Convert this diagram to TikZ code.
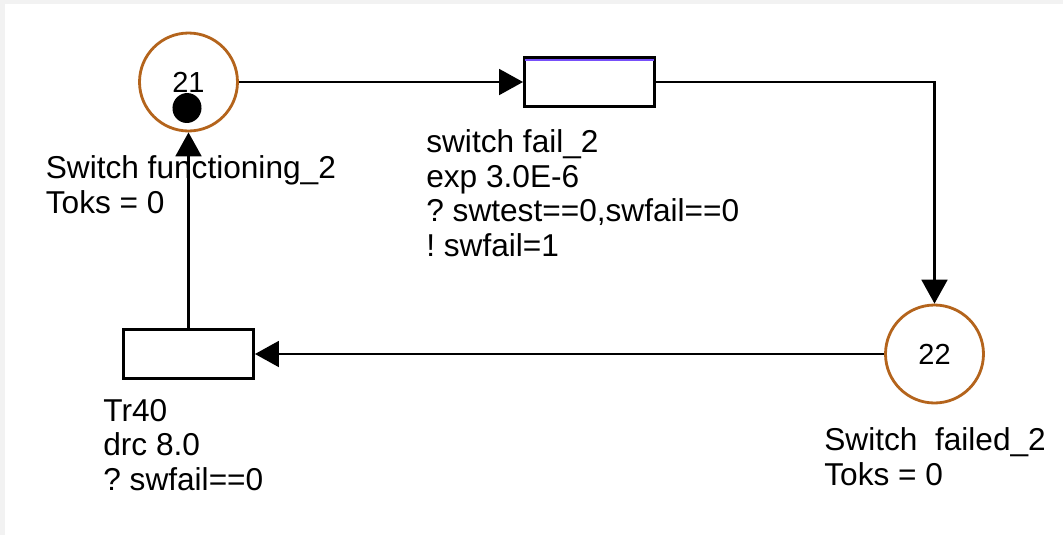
\documentclass[tikz,border=0pt]{standalone}
\usepackage{fontspec}
\setmainfont{Liberation Sans}
\usetikzlibrary{arrows.meta}
\frenchspacing
\definecolor{placebrown}{RGB}{180,100,28}
\definecolor{guardviolet}{RGB}{120,80,250}
\definecolor{framegray}{RGB}{242,242,242}
\begin{document}
\begin{tikzpicture}[x=0.02cm,y=-0.02cm,
  place/.style={circle,draw=placebrown,line width=1.6pt,minimum size=1.96cm,
    inner sep=0pt,font=\fontsize{16.5}{18}\selectfont},
  trans/.style={rectangle,draw=black,line width=1.7pt,fill=white,
    minimum width=2.6cm,minimum height=0.98cm,inner sep=0pt},
  lbl/.style={anchor=base west,align=left,inner sep=0pt,
    font=\fontsize{18}{19.6}\selectfont},
  arc/.style={line width=1.3pt,-{Triangle[length=13.6pt,width=14.7pt]}}]
  % frame
  \fill[framegray] (0,0) rectangle (1063,535);
  \fill[white] (5,4) rectangle (1063,535);
  % places
  \node[place] (p21) at (188.5,82) {21};
  \fill[black,rotate around={-15:(187,108)}] (187,108) ellipse (14.5 and 15);
  \node[place] (p22) at (934.5,354) {22};
  % transitions
  \node[trans] (t1) at (589.5,82) {};
  \draw[guardviolet,line width=1.1pt]
    ([xshift=0.9pt,yshift=-2.2pt]t1.north west) -- ([xshift=-0.9pt,yshift=-2.2pt]t1.north east);
  \node[trans] (t2) at (188.5,354) {};
  % arcs
  \draw[arc] (p21) -- (t1);
  \draw[arc] (t1.east) -| (p22.north);
  \draw[arc] (p22) -- (t2);
  \draw[arc] (t2) -- (p21);
  % labels (anchored on the last line)
  \node[lbl] (l21) at (45.5,213) {Switch functioning\_2\\Toks = 0};
  \node[lbl] (lt1) at (426,256) {switch fail\_2\\exp 3.0E-6\\? swtest==0,swfail==0\\! swfail=1};
  \node[lbl] (lt2) at (103,490) {Tr40\\drc 8.0\\? swfail==0};
  \node[lbl] (l22) at (824,485) {Switch\ \ failed\_2\\Toks = 0};
\end{tikzpicture}
\end{document}
